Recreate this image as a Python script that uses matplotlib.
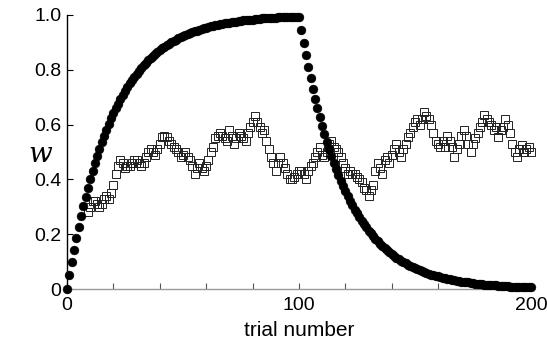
import matplotlib
matplotlib.use("Agg")
import matplotlib.pyplot as plt
from matplotlib.ticker import MultipleLocator

plt.rcParams['font.family'] = ['Liberation Sans', 'DejaVu Sans']

# filled circles: trials 0..200
w_rise = [0.000, 0.050, 0.098, 0.143, 0.185, 0.226, 0.265, 0.302, 0.337, 0.370,
          0.401, 0.431, 0.460, 0.487, 0.512, 0.537, 0.560, 0.582, 0.603, 0.623,
          0.642, 0.659, 0.676, 0.693, 0.708, 0.723, 0.736, 0.750, 0.762, 0.774,
          0.785, 0.796, 0.806, 0.816, 0.825, 0.834, 0.842, 0.850, 0.858, 0.865,
          0.871, 0.878, 0.884, 0.890, 0.895, 0.901, 0.906, 0.910, 0.915, 0.919,
          0.923, 0.927, 0.931, 0.934, 0.937, 0.940, 0.943, 0.946, 0.949, 0.952,
          0.954, 0.956, 0.958, 0.961, 0.962, 0.964, 0.966, 0.968, 0.969, 0.971,
          0.972, 0.974, 0.975, 0.976, 0.978, 0.979, 0.980, 0.981, 0.982, 0.983,
          0.983, 0.984, 0.985, 0.986, 0.987, 0.987, 0.988, 0.988, 0.989, 0.990,
          0.990, 0.991, 0.991, 0.992, 0.992, 0.992, 0.993, 0.993, 0.993, 0.994,
          0.994]
w_decay = [0.944, 0.897, 0.852, 0.810, 0.769, 0.731, 0.694, 0.659, 0.626, 0.595,
           0.565, 0.537, 0.510, 0.485, 0.461, 0.437, 0.416, 0.395, 0.375, 0.356,
           0.339, 0.322, 0.306, 0.290, 0.276, 0.262, 0.249, 0.236, 0.225, 0.213,
           0.203, 0.193, 0.183, 0.174, 0.165, 0.157, 0.149, 0.142, 0.134, 0.128,
           0.121, 0.115, 0.110, 0.104, 0.099, 0.094, 0.089, 0.085, 0.081, 0.076,
           0.073, 0.069, 0.066, 0.062, 0.059, 0.056, 0.053, 0.051, 0.048, 0.046,
           0.044, 0.041, 0.039, 0.037, 0.035, 0.034, 0.032, 0.030, 0.029, 0.027,
           0.026, 0.025, 0.024, 0.022, 0.021, 0.020, 0.019, 0.018, 0.017, 0.016,
           0.016, 0.015, 0.014, 0.013, 0.013, 0.012, 0.011, 0.011, 0.010, 0.010,
           0.009, 0.009, 0.008, 0.008, 0.008, 0.007, 0.007, 0.007, 0.006, 0.006]
circle_w = w_rise + w_decay
circle_trials = list(range(len(circle_w)))

# open squares: trials 9..200
square_first = 9
square_w = [0.28, 0.30, 0.32, 0.32, 0.31, 0.30, 0.31, 0.33, 0.34, 0.33,
            0.35, 0.38, 0.42, 0.45, 0.47, 0.46, 0.44, 0.45, 0.45, 0.46,
            0.47, 0.47, 0.46, 0.45, 0.46, 0.48, 0.50, 0.51, 0.50, 0.49,
            0.51, 0.53, 0.555, 0.56, 0.555, 0.54, 0.53, 0.52, 0.51, 0.50,
            0.48, 0.49, 0.50, 0.48, 0.47, 0.45, 0.42, 0.44, 0.46, 0.44,
            0.43, 0.45, 0.47, 0.50, 0.52, 0.55, 0.56, 0.57, 0.56, 0.55,
            0.54, 0.58, 0.56, 0.53, 0.55, 0.57, 0.56, 0.55, 0.54, 0.57,
            0.59, 0.61, 0.63, 0.61, 0.59, 0.57, 0.58, 0.54, 0.51, 0.48,
            0.46, 0.43, 0.46, 0.48, 0.46, 0.44, 0.42, 0.40, 0.40, 0.41,
            0.42, 0.43, 0.43, 0.42, 0.40, 0.43, 0.45, 0.46, 0.48, 0.50,
            0.52, 0.49, 0.48, 0.50, 0.53, 0.54, 0.52, 0.51, 0.50, 0.48,
            0.46, 0.44, 0.42, 0.43, 0.42, 0.42, 0.41, 0.40, 0.39, 0.37,
            0.36, 0.34, 0.36, 0.38, 0.43, 0.46, 0.44, 0.42, 0.47, 0.48,
            0.46, 0.49, 0.51, 0.53, 0.50, 0.48, 0.51, 0.53, 0.555, 0.57,
            0.59, 0.61, 0.62, 0.60, 0.62, 0.645, 0.63, 0.62, 0.60, 0.57,
            0.54, 0.53, 0.52, 0.54, 0.52, 0.56, 0.54, 0.52, 0.48, 0.51,
            0.53, 0.56, 0.58, 0.56, 0.53, 0.50, 0.53, 0.55, 0.57, 0.59,
            0.61, 0.635, 0.62, 0.61, 0.60, 0.58, 0.59, 0.555, 0.58, 0.59,
            0.62, 0.60, 0.57, 0.53, 0.50, 0.48, 0.51, 0.525, 0.50, 0.51,
            0.52, 0.50]
square_trials = list(range(square_first, square_first + len(square_w)))

fig = plt.figure(figsize=(5.47, 3.47), dpi=100)
ax = fig.add_axes([0.1225, 0.167, 0.848, 0.79])

ax.plot(square_trials, square_w, linestyle='none', marker='s', markersize=5.8,
        markerfacecolor='none', markeredgecolor='#222222', markeredgewidth=0.7,
        zorder=2, clip_on=False)
ax.plot(circle_trials, circle_w, linestyle='none', marker='o', markersize=6.4,
        markerfacecolor='black', markeredgecolor='black', markeredgewidth=0.3,
        zorder=3, clip_on=False)

ax.set_xlim(0, 200)
ax.set_ylim(0, 1)
for s in ['top', 'right']:
    ax.spines[s].set_visible(False)
ax.spines['bottom'].set_color('#999999')
ax.spines['bottom'].set_linewidth(1.0)
ax.spines['left'].set_color('black')
ax.spines['left'].set_linewidth(1.0)

ax.set_xticks([0, 100, 200])
ax.set_xticklabels(['0', '100', '200'])
ax.xaxis.set_minor_locator(MultipleLocator(20))
ax.set_yticks([0, 0.2, 0.4, 0.6, 0.8, 1.0])
ax.set_yticklabels(['0', '0.2', '0.4', '0.6', '0.8', '1.0'])
ax.tick_params(axis='x', which='both', direction='in', length=4, width=0.8,
               color='#555555', labelsize=14, pad=6)
ax.tick_params(axis='y', direction='in', length=4, width=0.8, color='black',
               labelsize=14, pad=4)

ax.set_xlabel('trial number', fontsize=15, labelpad=5)
ax.set_ylabel('w', fontsize=20, rotation=0, family='DejaVu Serif',
              style='italic', ha='center', va='center')
ax.yaxis.set_label_coords(-0.058, 0.49)

fig.savefig('out.png', dpi=100)
